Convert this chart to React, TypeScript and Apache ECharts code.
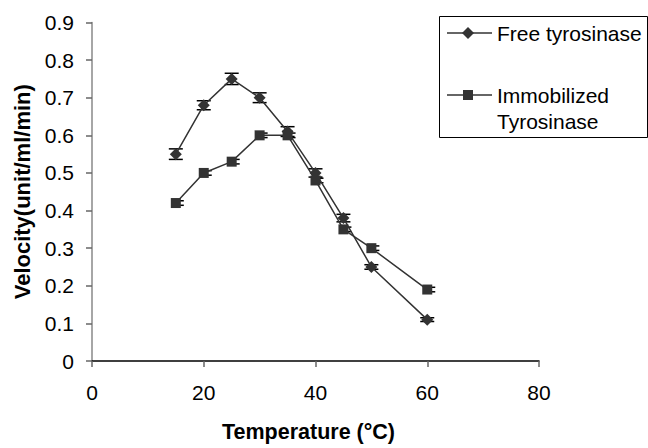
import React, { useEffect, useRef } from "react";
import * as echarts from "echarts";

const temps = [15, 20, 25, 30, 35, 40, 45, 50, 60];
const freeVel = [0.55, 0.68, 0.75, 0.70, 0.61, 0.50, 0.38, 0.25, 0.11];
const freeErr = [0.014, 0.012, 0.015, 0.013, 0.013, 0.011, 0.01, 0.006, 0.005];
const immVel = [0.42, 0.50, 0.53, 0.60, 0.60, 0.48, 0.35, 0.30, 0.19];
const immErr = [0.006, 0.006, 0.006, 0.006, 0.006, 0.006, 0.006, 0.006, 0.006];
const xTicks = [0, 20, 40, 60, 80];
const yTicks = [0, 0.1, 0.2, 0.3, 0.4, 0.5, 0.6, 0.7, 0.8, 0.9];

const FONT = "'Liberation Sans', Arial, sans-serif";
const DARK = "#333333";

function errorSeries(vals: number[], errs: number[], leftCap: number, rightCap: number) {
  return {
    type: "custom",
    z: 1,
    data: temps.map((t, i) => [t, vals[i] - errs[i], vals[i] + errs[i]]),
    renderItem: (_params: any, api: any) => {
      const x = api.value(0);
      const lo = api.coord([x, api.value(1)]);
      const hi = api.coord([x, api.value(2)]);
      const st = { stroke: "#000", lineWidth: 1.5 };
      return {
        type: "group",
        children: [
          { type: "line", shape: { x1: lo[0], y1: lo[1], x2: hi[0], y2: hi[1] }, style: st },
          { type: "line", shape: { x1: lo[0] - leftCap, y1: lo[1], x2: lo[0] + rightCap, y2: lo[1] }, style: st },
          { type: "line", shape: { x1: hi[0] - leftCap, y1: hi[1], x2: hi[0] + rightCap, y2: hi[1] }, style: st },
        ],
      };
    },
    silent: true,
  };
}

export default function App() {
  const ref = useRef<HTMLDivElement>(null);
  useEffect(() => {
    if (!ref.current) return;
    const chart = echarts.init(ref.current, null, { renderer: "svg" });
    const legendX = 447;
    chart.setOption({
      animation: false,
      backgroundColor: "#fff",
      grid: { left: 92, right: 109, top: 22.5, bottom: 80.5 },
      xAxis: {
        type: "value",
        min: xTicks[0],
        max: xTicks[xTicks.length - 1],
        interval: 20,
        name: "Temperature (°C)",
        nameLocation: "middle",
        nameGap: 60,
        nameTextStyle: { fontFamily: FONT, fontSize: 21.5, fontWeight: "bold", color: "#000", padding: [0, 14, 0, 0] },
        axisLine: { lineStyle: { color: "#000", width: 1.5 } },
        axisTick: { show: true, inside: false, length: 6, lineStyle: { color: "#666", width: 1.5 } },
        axisLabel: { fontFamily: FONT, fontSize: 21, color: "#000", margin: 21 },
        splitLine: { show: false },
      },
      yAxis: {
        type: "value",
        min: yTicks[0],
        max: yTicks[yTicks.length - 1],
        interval: 0.1,
        name: "Velocity(unit/ml/min)",
        nameLocation: "middle",
        nameGap: 57,
        nameTextStyle: { fontFamily: FONT, fontSize: 22, fontWeight: "bold", color: "#000" },
        axisLine: { lineStyle: { color: "#888", width: 1.5 } },
        axisTick: { show: true, inside: false, length: 6, lineStyle: { color: "#666", width: 1.5 } },
        axisLabel: {
          fontFamily: FONT,
          fontSize: 21,
          color: "#000",
          margin: 18,
          formatter: (v: number) => (Math.round(v * 10) / 10).toString(),
        },
        splitLine: { show: false },
      },
      series: [
        errorSeries(freeVel, freeErr, 7, 7),
        errorSeries(immVel, immErr, 0, 8),
        {
          name: "Free tyrosinase",
          type: "line",
          z: 3,
          data: temps.map((t, i) => [t, freeVel[i]]),
          symbol: "diamond",
          symbolSize: 12,
          itemStyle: { color: DARK },
          lineStyle: { color: DARK, width: 1.5 },
        },
        {
          name: "Immobilized Tyrosinase",
          type: "line",
          z: 3,
          data: temps.map((t, i) => [t, immVel[i]]),
          symbol: "rect",
          symbolSize: 10,
          itemStyle: { color: DARK },
          lineStyle: { color: DARK, width: 1.5 },
        },
      ],
      graphic: [
        {
          type: "rect",
          shape: { x: 439.5, y: 16.5, width: 208, height: 121 },
          style: { fill: "#fff", stroke: "#000", lineWidth: 1 },
          z: 10,
        },
        { type: "line", shape: { x1: legendX, y1: 33, x2: legendX + 45, y2: 33 }, style: { stroke: DARK, lineWidth: 1.5 }, z: 11 },
        { type: "polygon", shape: { points: [[468, 27], [474, 33], [468, 39], [462, 33]] }, style: { fill: DARK }, z: 11 },
        { type: "text", x: 497, y: 33, style: { text: "Free tyrosinase", fontFamily: FONT, fontSize: 21, fill: "#000", verticalAlign: "middle" }, z: 11 },
        { type: "line", shape: { x1: legendX, y1: 95, x2: legendX + 45, y2: 95 }, style: { stroke: DARK, lineWidth: 1.5 }, z: 11 },
        { type: "rect", shape: { x: 463, y: 90, width: 10, height: 10 }, style: { fill: DARK }, z: 11 },
        { type: "text", x: 497, y: 95, style: { text: "Immobilized", fontFamily: FONT, fontSize: 21, fill: "#000", verticalAlign: "middle" }, z: 11 },
        { type: "text", x: 497, y: 121, style: { text: "Tyrosinase", fontFamily: FONT, fontSize: 21, fill: "#000", verticalAlign: "middle" }, z: 11 },
      ],
    });
    return () => chart.dispose();
  }, []);
  return <div ref={ref} style={{ width: 648, height: 448, position: "absolute", left: 0, top: 0 }} />;
}
